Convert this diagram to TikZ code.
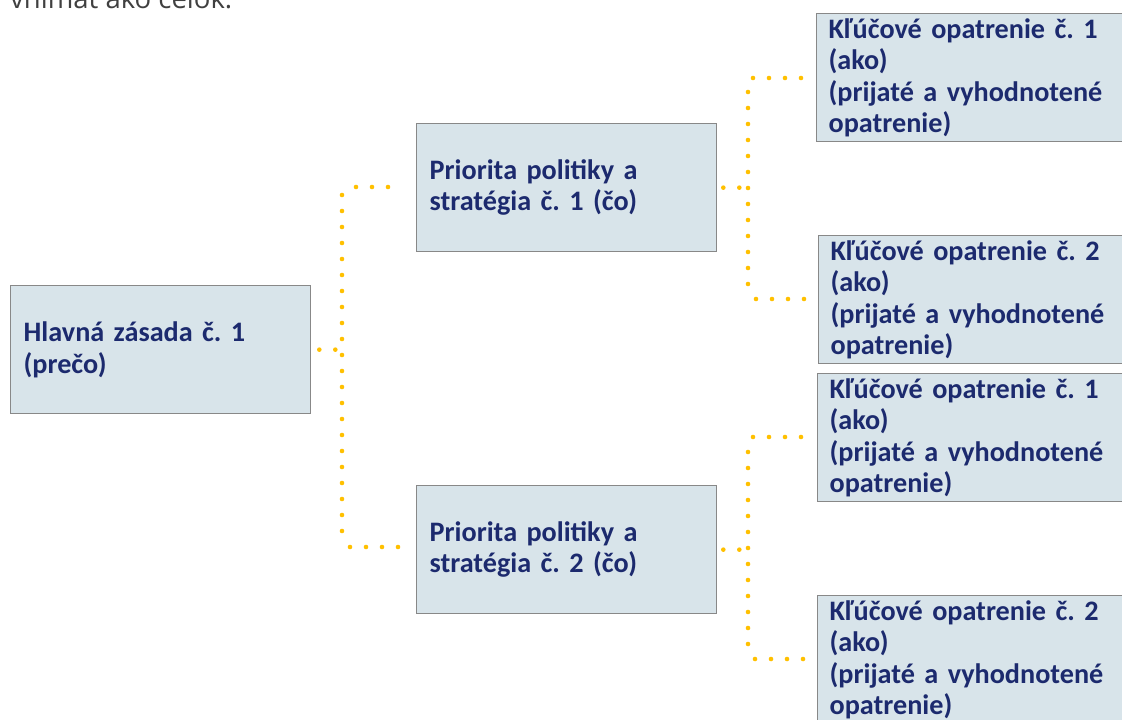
\documentclass[tikz,border=0pt]{standalone}
\usepackage{fontspec}
\setmainfont{Carlito}
\newfontfamily\topfont{Open Sans}
\usetikzlibrary{calc}
\frenchspacing
\definecolor{boxfill}{HTML}{D8E4EA}
\definecolor{boxline}{HTML}{888888}
\definecolor{navy}{HTML}{1C2A6E}
\definecolor{dotcol}{HTML}{FFC000}
\definecolor{toptext}{HTML}{404040}
\tikzset{
  box/.style={draw=boxline, line width=1.3pt, fill=boxfill, text=navy,
    font=\fontsize{28.2}{31.5}\selectfont\bfseries, align=left,
    inner xsep=13pt, inner ysep=0pt, minimum height=128pt, anchor=north west},
  midbox/.style={box, text width=274pt},
  leafbox/.style={box, text width=296pt, inner xsep=12pt},
  dotline/.style={draw=dotcol, line width=4.6pt, line cap=round, dash pattern=on 0pt off 16pt}
}
\begin{document}
\begin{tikzpicture}[x=1pt, y=-1pt]
\useasboundingbox (0,0) rectangle (1122,720);
\clip (0,0) rectangle (1122,720);
\fill[white] (0,0) rectangle (1122,720);
\node[anchor=base west, inner sep=0pt, text=toptext, font=\topfont\fontsize{27.5}{30}\selectfont] (top) at (10,9) {vnímať ako celok.};

\node[midbox] (A) at (10,285) {Hlavná zásada č. 1\\(prečo)};
\node[midbox] (B1) at (416,123) {Priorita politiky a\\stratégia č. 1 (čo)};
\node[midbox] (B2) at (416,485) {Priorita politiky a\\stratégia č. 2 (čo)};
\node[leafbox] (C1) at (816,13) {Kľúčové opatrenie č. 1\\(ako)\\(prijaté a vyhodnotené\\opatrenie)};
\node[leafbox] (C2) at (818,235) {Kľúčové opatrenie č. 2\\(ako)\\(prijaté a vyhodnotené\\opatrenie)};
\node[leafbox] (C3) at (817,373) {Kľúčové opatrenie č. 1\\(ako)\\(prijaté a vyhodnotené\\opatrenie)};
\node[leafbox] (C4) at (817,595) {Kľúčové opatrenie č. 2\\(ako)\\(prijaté a vyhodnotené\\opatrenie)};

% junction coordinates
\coordinate (j1t) at (342,187);
\coordinate (j1b) at (342,547);
\coordinate (j2t) at (748,78);
\coordinate (j2b) at (748,299);
\coordinate (j3t) at (748,437);
\coordinate (j3b) at (748,659);

% A -> B1, B2
\draw[dotline] ($(A.east)+(8,0)$) -- ($(A.east)+(26,0)$);
\draw[dotline] ($(j1t)+(0,8)$) -- ($(j1b)+(0,-14)$);
\draw[dotline] ($(j1t)+(14,0)$) -- ($(B1.west |- j1t)+(-26,0)$);
\draw[dotline] ($(j1b)+(8,0)$) -- ($(B2.west |- j1b)+(-16,0)$);

% B1 -> C1, C2
\draw[dotline] ($(B1.east)+(6,0)$) -- ($(B1.east)+(24,0)$);
\draw[dotline] ($(j2t)+(0,14)$) -- ($(j2b)+(0,-10)$);
\draw[dotline] ($(j2t)+(5,0)$) -- ($(C1.west |- j2t)+(-11,0)$);
\draw[dotline] ($(j2b)+(8,0)$) -- ($(C2.west |- j2b)+(-11,0)$);

% B2 -> C3, C4
\draw[dotline] ($(B2.east)+(6,0)$) -- ($(B2.east)+(24,0)$);
\draw[dotline] ($(j3t)+(0,15)$) -- ($(j3b)+(0,-12)$);
\draw[dotline] ($(j3t)+(5,0)$) -- ($(C3.west |- j3t)+(-14,0)$);
\draw[dotline] ($(j3b)+(7,0)$) -- ($(C4.west |- j3b)+(-12,0)$);
\end{tikzpicture}
\end{document}
